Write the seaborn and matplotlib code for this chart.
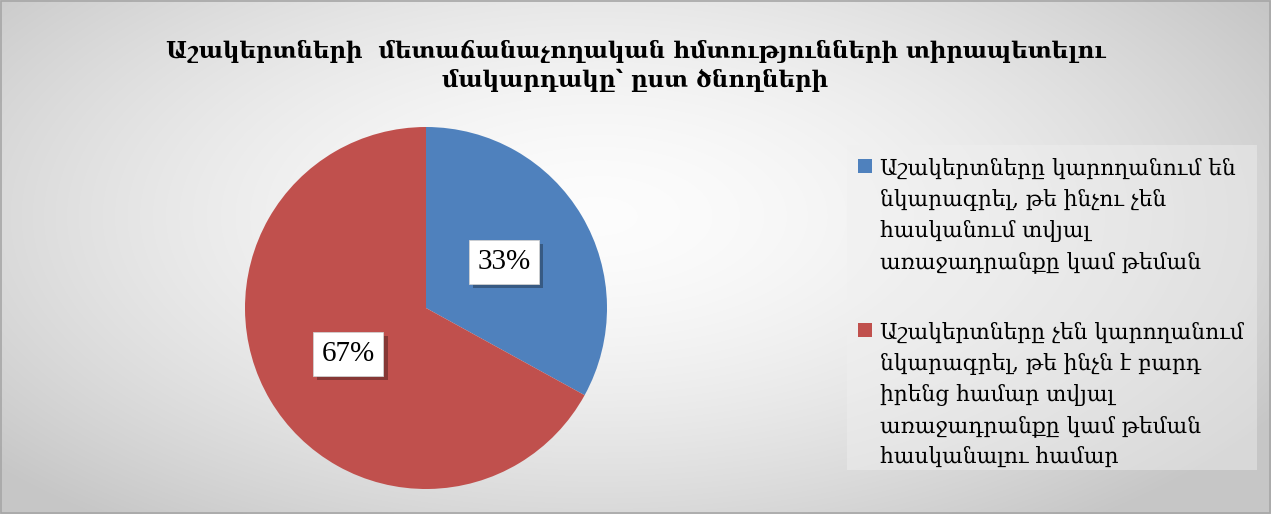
import numpy as np
import matplotlib
matplotlib.use("Agg")
import matplotlib.pyplot as plt
import matplotlib.patheffects as pe
from matplotlib.patches import Rectangle
import seaborn as sns

sns.set_theme(style="white")

title = "Աշակերտների  մետաճանաչողական հմտությունների տիրապետելու\nմակարդակը՝ ըստ ծնողների"
categories = [
    "Աշակերտները կարողանում են\nնկարագրել, թե ինչու չեն\nհասկանում տվյալ\nառաջադրանքը կամ թեման",
    "Աշակերտները չեն կարողանում\nնկարագրել, թե ինչն է բարդ\nիրենց համար տվյալ\nառաջադրանքը կամ թեման\nհասկանալու համար",
]
values = [33, 67]
colors = ["#4f81bd", "#c0504d"]

W, H = 1271, 514
fig = plt.figure(figsize=(W / 100, H / 100), dpi=100)

# background radial gradient
bg = fig.add_axes([0, 0, 1, 1])
yy, xx = np.mgrid[0:H, 0:W]
cx, cy = 0.47 * W, 0.42 * H
d = np.sqrt(((xx - cx) / (0.62 * W)) ** 2 + ((yy - cy) / (0.75 * H)) ** 2)
d = np.clip(d, 0, 1)
shade = 0.99 - 0.21 * d ** 1.6
bg.imshow(np.dstack([shade, shade, shade]), aspect="auto", extent=[0, 1, 0, 1], origin="upper")
bg.add_patch(Rectangle((0.001, 0.002), 0.998, 0.996, fill=False, edgecolor="#a6a6a6", lw=1.2))
# legend panel
bg.add_patch(Rectangle((847 / W, 1 - 470 / H), 410 / W, 325 / H, facecolor="#f0f0f0",
                       edgecolor="none", alpha=0.45))
bg.set_xlim(0, 1); bg.set_ylim(0, 1)
bg.axis("off")

# pie
r = 181
pcx, pcy = 426, 308
ax = fig.add_axes([(pcx - r) / W, (H - pcy - r) / H, 2 * r / W, 2 * r / H])
wedges, texts, autotexts = ax.pie(
    values, colors=colors, startangle=90, counterclock=False,
    autopct="%1.0f%%", pctdistance=0.5, radius=1.0,
    wedgeprops=dict(linewidth=0),
    textprops=dict(fontsize=21, family=["Liberation Serif", "DejaVu Serif"], color="black"),
)
for t in autotexts:
    t.set_bbox(dict(boxstyle="square,pad=0.3", facecolor="white", edgecolor="#d0d0d0", lw=0.6))
    t.get_bbox_patch().set_path_effects([
        pe.SimplePatchShadow(offset=(3, -3), shadow_rgbFace="black", alpha=0.3), pe.Normal()])
ax.set_xlim(-1, 1); ax.set_ylim(-1, 1)
ax.set_aspect("equal")
ax.axis("off")

fig.text(0.5, 1 - 66 / H, title, ha="center", va="center", fontsize=16.5, fontweight="bold",
         color="black", family=["DejaVu Serif", "DejaVu Sans"], linespacing=1.35)

# legend (manual, aligned to first line)
entry_tops = [158, 322]
for lab, col, top in zip(categories, colors, entry_tops):
    bg.add_patch(Rectangle((858 / W, 1 - (top + 15) / H), 14 / W, 14 / H,
                           facecolor=col, edgecolor="none"))
    fig.text(880 / W, 1 - top / H, lab, ha="left", va="top", fontsize=15.7,
             color="black", family=["DejaVu Serif", "DejaVu Sans"], linespacing=1.53)

fig.savefig("out.png", dpi=100)
